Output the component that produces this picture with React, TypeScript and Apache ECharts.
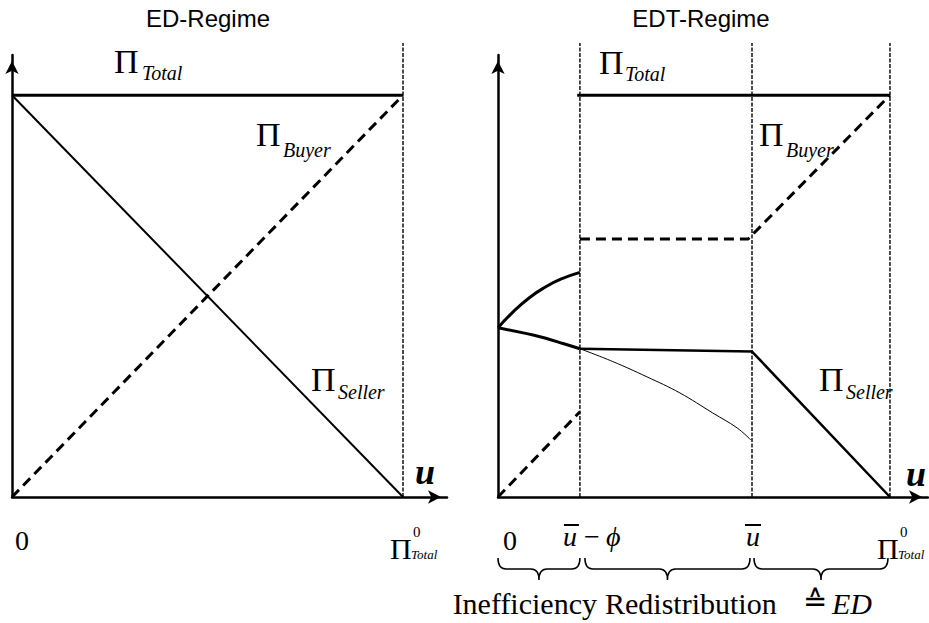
import React, { useEffect, useRef } from "react";
import * as echarts from "echarts";

// ---- data (normalised: Π_Total = 10, u axis from 0 to Π⁰_Total = 10) ----
const PI0 = 10;
const U_BAR_MINUS_PHI = 2.09;
const U_BAR = 6.48;
const GUIDE_TOP = 11.3;

// ED-Regime
const edTotal = [[0, 10], [10, 10]];
const edSeller = [[0, 10], [10, 0]];
const edBuyer = [[0, 0], [10, 10]];
const edGuides = [PI0];

// EDT-Regime
const edtTotal = [[2.02, 10], [10, 10]];
const edtBuyerLow = [[0, 0], [2.09, 2.12]];
const edtBuyerHigh = [[2.09, 6.42], [6.38, 6.42], [10, 10]];
const edtUpperCurve = [[0, 4.21], [0.4, 4.62], [0.8, 4.96], [1.2, 5.22], [1.6, 5.42], [2.09, 5.59]];
const edtSellerIneff = [[0, 4.21], [1.07, 3.99], [1.66, 3.82], [2.09, 3.69]];
const edtSellerRest = [[2.09, 3.69], [6.48, 3.62], [10, 0]];
const edtThinCurve = [[2.09, 3.69], [2.93, 3.37], [3.8, 2.99], [4.64, 2.59], [5.48, 2.09], [6.1, 1.72], [6.45, 1.42]];
const edtGuides = [U_BAR_MINUS_PHI, U_BAR, PI0];

const SERIF = "Liberation Serif, Times New Roman, DejaVu Serif, serif";
const SANS = "Liberation Sans, Arial, Helvetica, sans-serif";

export default function App() {
  const ref = useRef<HTMLDivElement>(null);

  useEffect(() => {
    const el = ref.current!;
    const chart = echarts.init(el, null, { renderer: "svg" });

    const axisLine = {
      show: true,
      onZero: true,
      symbol: ["none", "arrow"],
      symbolSize: [10, 13],
      symbolOffset: [0, -6],
      lineStyle: { color: "#000", width: 2.5 },
    };
    const axis = (gridIndex: number, max: number) => ({
      type: "value",
      gridIndex,
      min: 0,
      max,
      axisLine,
      axisTick: { show: false },
      axisLabel: { show: false },
      splitLine: { show: false },
    });

    const line = (g: number, data: number[][], width: number, type: any = "solid", smooth: any = false, color = "#000") => ({
      type: "line",
      xAxisIndex: g,
      yAxisIndex: g,
      data,
      symbol: "none",
      showSymbol: false,
      smooth,
      clip: false,
      silent: true,
      lineStyle: { color, width, type, cap: "butt" },
    });

    const guide = (g: number, x: number) =>
      line(g, [[x, 0], [x, GUIDE_TOP]], 1.4, [4, 1.5], false, "#000");

    chart.setOption({
      animation: false,
      backgroundColor: "#fff",
      grid: [
        { left: 12, top: 55, width: 435, height: 442 },
        { left: 498, top: 55, width: 430, height: 442 },
      ],
      xAxis: [axis(0, 11.125), axis(1, 10.97)],
      yAxis: [axis(0, 11), axis(1, 11)],
      series: [
        ...edGuides.map((x) => guide(0, x)),
        ...edtGuides.map((x) => guide(1, x)),
        line(0, edTotal, 3),
        line(0, edSeller, 2),
        line(0, edBuyer, 3, [10, 6]),
        line(1, edtTotal, 3),
        line(1, edtBuyerLow, 3, [10, 6]),
        line(1, edtBuyerHigh, 3, [10, 6]),
        line(1, edtUpperCurve, 3, "solid", 0.5),
        line(1, edtSellerIneff, 3, "solid", 0.3),
        line(1, edtSellerRest, 2.5),
        line(1, edtThinCurve, 1, "solid", 0.4),
      ],
    });

    const px = (g: number, x: number) => (chart.convertToPixel({ gridIndex: g } as any, [x, 0]) as number[])[0];

    const txt = (
      text: string,
      x: number,
      y: number,
      size: number,
      opts: { family?: string; style?: string; weight?: string; align?: string } = {}
    ) => {
      const family = opts.family || SERIF;
      const fs = opts.style || "normal";
      const fw = opts.weight || "normal";
      return {
        type: "text",
        x,
        y,
        silent: true,
        style: {
          text,
          fill: "#000",
          font: `${fs} ${fw} ${size}px ${family}`,
          fontFamily: family,
          fontSize: size,
          fontStyle: fs,
          fontWeight: fw,
          align: opts.align || "left",
          textAlign: opts.align || "left",
          verticalAlign: "middle",
          textVerticalAlign: "middle",
        },
      };
    };

    const piLabel = (sub: string, x: number, y: number, subDx: number, subDy: number) => [
      txt("Π", x, y, 34),
      txt(sub, x + subDx, y + subDy, 20, { style: "italic" }),
    ];

    const piZero = (xLine: number) => [
      txt("Π", xLine - 13, 548, 30),
      txt("0", xLine + 10, 532, 15),
      txt("Total", xLine + 8, 554, 13, { style: "italic" }),
    ];

    const bar = (x1: number, x2: number) => ({
      type: "line",
      silent: true,
      shape: { x1, y1: 525, x2, y2: 525 },
      style: { stroke: "#000", lineWidth: 2 },
    });

    // braces
    const braceY0 = 558, braceY1 = 569, braceY2 = 580, r = 8;
    const bracePath = (x0: number, x1: number) => {
      const xm = (x0 + x1) / 2;
      return `M ${x0} ${braceY0} Q ${x0} ${braceY1} ${x0 + r} ${braceY1} L ${xm - r} ${braceY1} Q ${xm} ${braceY1} ${xm} ${braceY2} Q ${xm} ${braceY1} ${xm + r} ${braceY1} L ${x1 - r} ${braceY1} Q ${x1} ${braceY1} ${x1} ${braceY0}`;
    };
    const r0 = px(1, 0), rA = px(1, U_BAR_MINUS_PHI), rB = px(1, U_BAR), rC = px(1, PI0);
    const l0 = px(0, 0), lC = px(0, PI0);
    const spans = [
      [r0, rA],
      [rA + 5, rB - 2],
      [rB + 2, rC - 2],
    ];
    spans.forEach((s, i) => {
      echarts.graphic.registerShape("brace" + i, echarts.graphic.extendPath(bracePath(s[0], s[1]), {}) as any);
    });

    const graphic: any[] = [
      txt("ED-Regime", 208, 18, 24, { family: SANS, align: "center" }),
      txt("EDT-Regime", 701, 18, 24, { family: SANS, align: "center" }),

      ...piLabel("Total", 114, 61, 28, 12),
      ...piLabel("Buyer", 256, 134, 27, 16),
      ...piLabel("Seller", 311, 379, 27, 13),
      ...piLabel("Total", 599, 62, 26, 12),
      ...piLabel("Buyer", 759, 134, 27, 16),
      ...piLabel("Seller", 819, 379, 27, 13),

      txt("u", 415, 472, 36, { style: "italic", weight: "bold" }),
      txt("u", 906, 474, 36, { style: "italic", weight: "bold" }),

      // left axis labels
      txt("0", l0 + 10, 540, 28, { align: "center" }),
      ...piZero(lC),

      // right axis labels
      txt("0", r0 + 12, 540, 28, { align: "center" }),
      txt("u", rA - 17, 536, 28, { style: "italic" }),
      bar(rA - 16, rA - 1),
      txt("−", rA + 4, 536, 28),
      txt("ϕ", rA + 26, 536, 28, { style: "italic" }),
      txt("u", rB + 1, 536, 28, { style: "italic", align: "center" }),
      bar(rB - 7, rB + 9),
      ...piZero(rC),

      ...spans.map((_, i) => ({
        type: "brace" + i,
        silent: true,
        style: { stroke: "#000", fill: "none", lineWidth: 1.5 },
      })),

      txt("Inefficiency", 597, 603, 30, { align: "right" }),
      txt("Redistribution", 605, 603, 30),
      txt("≙", 803, 601, 29),
      txt("ED", 832, 603, 30, { style: "italic" }),
    ];

    chart.setOption({ graphic });

    return () => chart.dispose();
  }, []);

  return (
    <div
      ref={ref}
      style={{ position: "fixed", left: 0, top: 0, width: 929, height: 623, background: "#fff" }}
    />
  );
}
